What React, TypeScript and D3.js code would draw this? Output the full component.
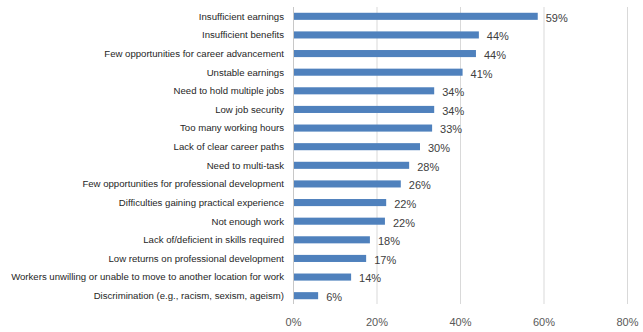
import React from "react";
import * as d3 from "d3";

const categories = [
  "Insufficient earnings",
  "Insufficient benefits",
  "Few opportunities for career advancement",
  "Unstable earnings",
  "Need to hold multiple jobs",
  "Low job security",
  "Too many working hours",
  "Lack of clear career paths",
  "Need to multi-task",
  "Few opportunities for professional development",
  "Difficulties gaining practical experience",
  "Not enough work",
  "Lack of/deficient in skills required",
  "Low returns on professional development",
  "Workers unwilling or unable to move to another location for work",
  "Discrimination (e.g., racism, sexism, ageism)",
];
const values = [58.5, 44.4, 43.7, 40.5, 33.7, 33.7, 33.2, 30.3, 27.7, 25.7, 22.2, 21.9, 18.3, 17.4, 13.8, 5.9];
const labels = ["59%", "44%", "44%", "41%", "34%", "34%", "33%", "30%", "28%", "26%", "22%", "22%", "18%", "17%", "14%", "6%"];
const ticks = [0, 20, 40, 60, 80];

export default function App() {
  const W = 643, H = 332;
  const x = d3.scaleLinear().domain([0, 80]).range([293.5, 627.5]);
  const y = d3.scaleBand<string>().domain(categories).range([7, 305]).paddingInner(0.62).paddingOuter(0.31);
  const font = "'Liberation Sans', Arial, sans-serif";
  return (
    <svg width={W} height={H} style={{ position: "absolute", left: 0, top: 0, background: "#fff" }}>
      {ticks.map((t) => (
        <g key={t}>
          <line x1={x(t)} x2={x(t)} y1={7} y2={304} stroke={t === 0 ? "#c8c8c8" : "#d9d9d9"} strokeWidth={1} />
          <text x={x(t)} y={322} dy="0.35em" textAnchor="middle" fontFamily={font} fontSize={11} fill="#595959">
            {t}%
          </text>
        </g>
      ))}
      {categories.map((c, i) => {
        const yc = (y(c) as number) + y.bandwidth() / 2;
        return (
          <g key={c}>
            <rect x={x(0) + 0.5} y={y(c)} width={x(values[i]) - x(0) - 0.5} height={y.bandwidth()} fill="#4f81bd" />
            <text x={284} y={yc} dy="0.35em" textAnchor="end" fontFamily={font} fontSize={9.6} fill="#262626">
              {c}
            </text>
            <text x={x(values[i]) + 8} y={yc + 1.5} dy="0.35em" fontFamily={font} fontSize={11} fill="#404040">
              {labels[i]}
            </text>
          </g>
        );
      })}
    </svg>
  );
}
